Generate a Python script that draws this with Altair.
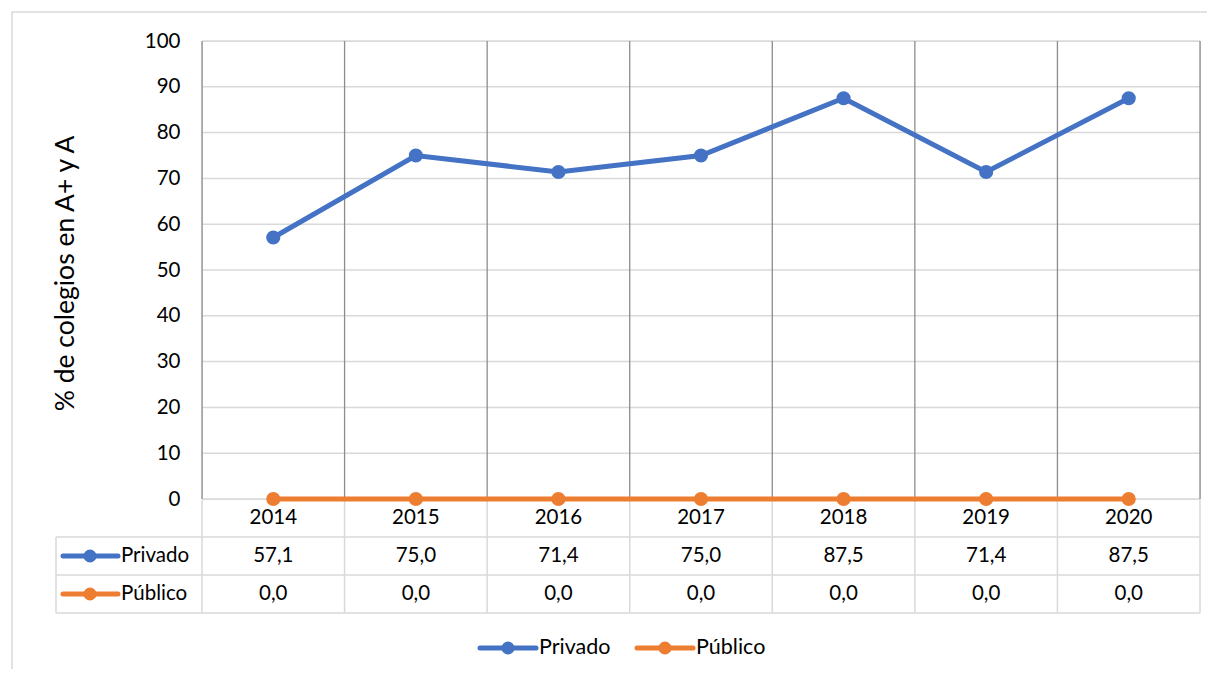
import altair as alt
import pandas as pd

years = [2014, 2015, 2016, 2017, 2018, 2019, 2020]
privado = [57.1, 75.0, 71.4, 75.0, 87.5, 71.4, 87.5]
publico = [0.0, 0.0, 0.0, 0.0, 0.0, 0.0, 0.0]
series_names = ["Privado", "Público"]
series_colors = ["#4472C4", "#ED7D31"]
y_title = "% de colegios en A+ y A"

FONT = "Lato"
FS = 20.5
W, H = 998, 458
ROW_Y = [477, 515, 553]        # centres of table rows (years, Privado, Público)
ROW_LINES = [496, 534, 572]    # table horizontal borders
TABLE_LEFT = -146
LIGHT = "#D9D9D9"
DARK = "#8C8C8C"

rows = []
for name, vals in zip(series_names, [privado, publico]):
    for yr, v in zip(years, vals):
        rows.append({"year": yr, "value": v, "series": name,
                     "label": f"{v:.1f}".replace(".", ",")})
df = pd.DataFrame(rows)
bounds = pd.DataFrame({"b": [y - 0.5 for y in years] + [years[-1] + 0.5]})
yr_df = pd.DataFrame({"year": years, "label": [str(y) for y in years]})
one = pd.DataFrame({"a": [0]})

xs = alt.Scale(domain=[years[0] - 0.5, years[-1] + 0.5], nice=False, zero=False)
ys = alt.Scale(domain=[0, 100], nice=False)
cs = alt.Scale(domain=series_names, range=series_colors)

def X(f):
    return alt.X(f, type="quantitative", scale=xs, axis=None)

border = alt.Chart(one).mark_rect(filled=False, stroke=LIGHT, strokeWidth=1.5).encode(
    x=alt.value(-190), x2=alt.value(1030), y=alt.value(-29), y2=alt.value(660))

grid_base = alt.Chart(pd.DataFrame({"v": list(range(0, 101, 10))})).mark_rule(
    color=LIGHT, strokeWidth=1.5).encode(
    y=alt.Y("v:Q", scale=ys,
            axis=alt.Axis(values=list(range(0, 101, 10)), grid=False, ticks=False, domain=False,
                          labelFontSize=FS, labelFont=FONT, labelColor="#000000",
                          labelPadding=22, title=y_title, titleFont=FONT, titleFontSize=26.5,
                          titleFontWeight="normal", titleColor="#000000",
                          titleX=-137, titleY=232, titleAngle=-90, zindex=1,
                          titleAlign="center", titleBaseline="middle")),
    x=alt.value(0), x2=alt.value(W))

vlines = alt.Chart(bounds).mark_rule(color=DARK, strokeWidth=1.3).encode(
    x=X("b"), y=alt.value(0), y2=alt.value(H))
vlines_tab = alt.Chart(bounds).mark_rule(color=LIGHT, strokeWidth=1.5).encode(
    x=X("b"), y=alt.value(H + 1), y2=alt.value(ROW_LINES[2]))

def hline(y, x1, x2):
    return alt.Chart(one).mark_rule(color=LIGHT, strokeWidth=1.5).encode(
        y=alt.value(y), x=alt.value(x1), x2=alt.value(x2))

tab_h = [hline(y, TABLE_LEFT, W) for y in ROW_LINES]
tab_left = alt.Chart(one).mark_rule(color=LIGHT, strokeWidth=1.5).encode(
    x=alt.value(TABLE_LEFT), y=alt.value(ROW_LINES[0]), y2=alt.value(ROW_LINES[2]))

lines = alt.Chart(df).mark_line(strokeWidth=5, strokeCap="round").encode(
    x=X("year"), y=alt.Y("value:Q", scale=ys),
    color=alt.Color("series:N", scale=cs, legend=None))
points = alt.Chart(df).mark_point(filled=True, opacity=1, size=200, shape="circle").encode(
    x=X("year"), y=alt.Y("value:Q", scale=ys),
    color=alt.Color("series:N", scale=cs, legend=None))

year_txt = alt.Chart(yr_df).mark_text(fontSize=FS, font=FONT, color="#000000").encode(
    x=X("year"), y=alt.value(ROW_Y[0]), text="label:N")

tab_layers = []
for i, (name, col) in enumerate(zip(series_names, series_colors)):
    ry = ROW_Y[i + 1]
    sub = df[df.series == name]
    tab_layers.append(alt.Chart(sub).mark_text(fontSize=FS, font=FONT, color="#000000").encode(
        x=X("year"), y=alt.value(ry), text="label:N"))
    key = pd.DataFrame({"series": [name]})
    tab_layers.append(alt.Chart(key).mark_rule(color=col, strokeWidth=5, strokeCap="round").encode(
        x=alt.value(63 - 202), x2=alt.value(118 - 202), y=alt.value(ry)))
    tab_layers.append(alt.Chart(key).mark_point(color=col, filled=True, opacity=1, size=170,
                                                shape="circle").encode(
        x=alt.value(90 - 202), y=alt.value(ry)))
    tab_layers.append(alt.Chart(key).mark_text(fontSize=FS, font=FONT, color="#000000",
                                               align="left").encode(
        x=alt.value(121 - 202), y=alt.value(ry), text="series:N"))

# bottom legend
LEG_Y = 648 - 41
leg_layers = []
for name, col, x0 in zip(series_names, series_colors, [480 - 202, 637 - 202]):
    key = pd.DataFrame({"series": [name]})
    leg_layers.append(alt.Chart(key).mark_rule(color=col, strokeWidth=5, strokeCap="round").encode(
        x=alt.value(x0), x2=alt.value(x0 + 56), y=alt.value(LEG_Y)))
    leg_layers.append(alt.Chart(key).mark_point(color=col, filled=True, opacity=1, size=170,
                                                shape="circle").encode(
        x=alt.value(x0 + 28), y=alt.value(LEG_Y)))
    leg_layers.append(alt.Chart(key).mark_text(fontSize=21.5, font=FONT, color="#000000",
                                               align="left").encode(
        x=alt.value(x0 + 59), y=alt.value(LEG_Y), text="series:N"))

chart = alt.layer(
    border, grid_base, vlines, vlines_tab, *tab_h, tab_left,
    lines, points, year_txt, *tab_layers, *leg_layers
).properties(
    width=W, height=H,
    autosize=alt.AutoSizeParams(type="none"),
    padding={"left": 194, "top": 33, "right": 7, "bottom": 170},
).configure_view(stroke=None).configure(background="white")

chart.save("out.html", embed_options={"renderer": "svg", "actions": False})
